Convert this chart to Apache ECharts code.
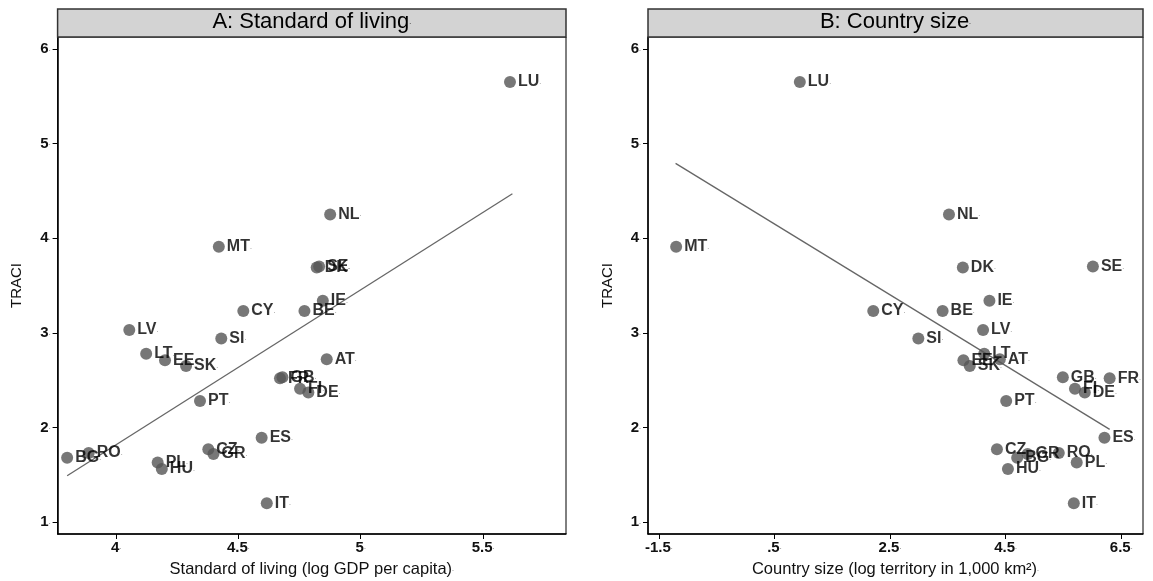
<!DOCTYPE html>
<html>
<head>
<meta charset="utf-8">
<script src="https://cdn.jsdelivr.net/npm/echarts@6/dist/echarts.min.js"></script>
<style>
html,body{margin:0;padding:0;background:#fff;}
#c{width:1153px;height:581px;}
</style>
</head>
<body>
<div id="c"></div>
<script>
// ---- data ----
const countries = ['LU','NL','SE','DK','IE','BE','CY','MT','SI','LV','LT','EE','SK','AT','GB','FR','FI','DE','PT','ES','CZ','GR','PL','HU','IT','BG','RO'];
const traci = [5.65,4.25,3.70,3.69,3.34,3.23,3.23,3.91,2.94,3.03,2.78,2.71,2.65,2.72,2.53,2.52,2.41,2.37,2.28,1.89,1.77,1.72,1.63,1.56,1.20,1.68,1.73];
const logGdp = [5.61,4.875,4.83,4.82,4.845,4.77,4.52,4.42,4.43,4.054,4.123,4.20,4.286,4.861,4.68,4.67,4.752,4.786,4.343,4.595,4.377,4.398,4.17,4.187,4.616,3.80,3.888];
const logTerritory = [0.94,3.52,6.01,3.76,4.22,3.41,2.21,-1.20,2.99,4.11,4.13,3.77,3.88,4.40,5.49,6.30,5.70,5.87,4.51,6.21,4.35,4.88,5.73,4.54,5.68,4.70,5.42];
const fitA = [[3.80,1.49],[5.62,4.47]];
const fitB = [[-1.21,4.79],[6.30,1.98]];
const yTicks = [1,2,3,4,5,6];
const yTickLabels = ['1','2','3','4','5','6'];
const xTicksA = [4,4.5,5,5.5];
const xTickLabelsA = ['4','4.5','5','5.5'];
const xTicksB = [-1.5,0.5,2.5,4.5,6.5];
const xTickLabelsB = ['-1.5','.5','2.5','4.5','6.5'];
const titleA = 'A: Standard of living';
const titleB = 'B: Country size';
const xNameA = 'Standard of living (log GDP per capita)';
const xNameB = 'Country size (log territory in 1,000 km²)';
const yName = 'TRACI';

// ---- layout ----
const FONT = '"Liberation Sans", Arial, sans-serif';
const gA = {left:57.6, top:37, width:508.4, height:497};
const gB = {left:648, top:37, width:495, height:497};
const DOT = {fontFamily:FONT,fontSize:7,color:'#555'};
const tickRich = {
  n:{fontFamily:FONT,fontSize:15,fontWeight:'bold',color:'#111'},
  d:DOT
};
function tickFmt(ticks, labels){
  return function(v){
    let i = ticks.findIndex(t => Math.abs(t - v) < 1e-6);
    let s = i >= 0 ? labels[i] : String(v);
    return '{n|' + s + '}{d|.}';
  };
}
function nameRich(size){
  return {n:{fontFamily:FONT,fontSize:size,color:'#111'}, d:DOT};
}
function xAxis(idx, min, max, ticks, labels, name){
  return {
    type:'value', gridIndex:idx, min:min, max:max,
    axisLine:{show:true,onZero:false,lineStyle:{color:'#000',width:1.5}},
    axisTick:{show:true,length:5,customValues:ticks,lineStyle:{color:'#000',width:1}},
    axisLabel:{customValues:ticks,formatter:tickFmt(ticks,labels),margin:6,rich:tickRich},
    splitLine:{show:false},
    name:'{n|' + name + '}{d|.}', nameLocation:'middle', nameGap:27,
    nameTextStyle:{rich:nameRich(16.5)}
  };
}
function yAxis(idx){
  return {
    type:'value', gridIndex:idx, min:0.874, max:6.126,
    axisLine:{show:true,onZero:false,lineStyle:{color:'#000',width:1.5}},
    axisTick:{show:true,length:5,customValues:yTicks,lineStyle:{color:'#000',width:1}},
    axisLabel:{customValues:yTicks,formatter:tickFmt(yTicks,yTickLabels),margin:7,rich:tickRich},
    splitLine:{show:false},
    name:yName, nameLocation:'middle', nameGap:33, nameRotate:90,
    nameTextStyle:{fontFamily:FONT,fontSize:15,color:'#111'}
  };
}
function pts(xs){
  return countries.map((c,i)=>({name:c, value:[xs[i], traci[i]]}));
}
function scatter(idx, xs){
  return {
    type:'scatter', xAxisIndex:idx, yAxisIndex:idx, data:pts(xs),
    symbol:'circle', symbolSize:12,
    itemStyle:{color:'#555555'},
    label:{show:true, position:'right', distance:2,
      formatter:p => '{n|' + p.name + '}{d|.}',
      rich:{n:{fontFamily:FONT,fontSize:16,fontWeight:'bold',color:'#000'}, d:DOT}},
    emphasis:{disabled:true}, z:3
  };
}
function fit(idx, data){
  return {type:'line', xAxisIndex:idx, yAxisIndex:idx, data:data, symbol:'none',
    lineStyle:{color:'#666',width:1.3}, z:2, silent:true};
}
function header(g, text){
  return [
    {type:'rect', shape:{x:g.left, y:9, width:g.width, height:28},
     style:{fill:'#d3d3d3', stroke:'#333', lineWidth:1.5}, z:10},
    {type:'text', x:g.left + g.width/2, y:22,
     style:{text:'{n|' + text + '}{d|.}', rich:{n:{fontFamily:FONT,fontSize:22,fill:'#000',color:'#000'}, d:DOT},
            align:'center', verticalAlign:'middle'}, z:11}
  ];
}
function grid(g){
  return Object.assign({show:true,borderColor:'#000',borderWidth:1,containLabel:false,outerBoundsMode:'none'}, g);
}

const chart = echarts.init(document.getElementById('c'), null, {renderer:'canvas'});
chart.setOption({
  animation:false,
  backgroundColor:'#fff',
  grid:[grid(gA), grid(gB)],
  xAxis:[
    xAxis(0, 3.761, 5.839, xTicksA, xTickLabelsA, xNameA),
    xAxis(1, -1.687, 6.877, xTicksB, xTickLabelsB, xNameB)
  ],
  yAxis:[yAxis(0), yAxis(1)],
  series:[fit(0, fitA), scatter(0, logGdp), fit(1, fitB), scatter(1, logTerritory)],
  graphic:[...header(gA, titleA), ...header(gB, titleB)]
});
</script>
</body>
</html>
